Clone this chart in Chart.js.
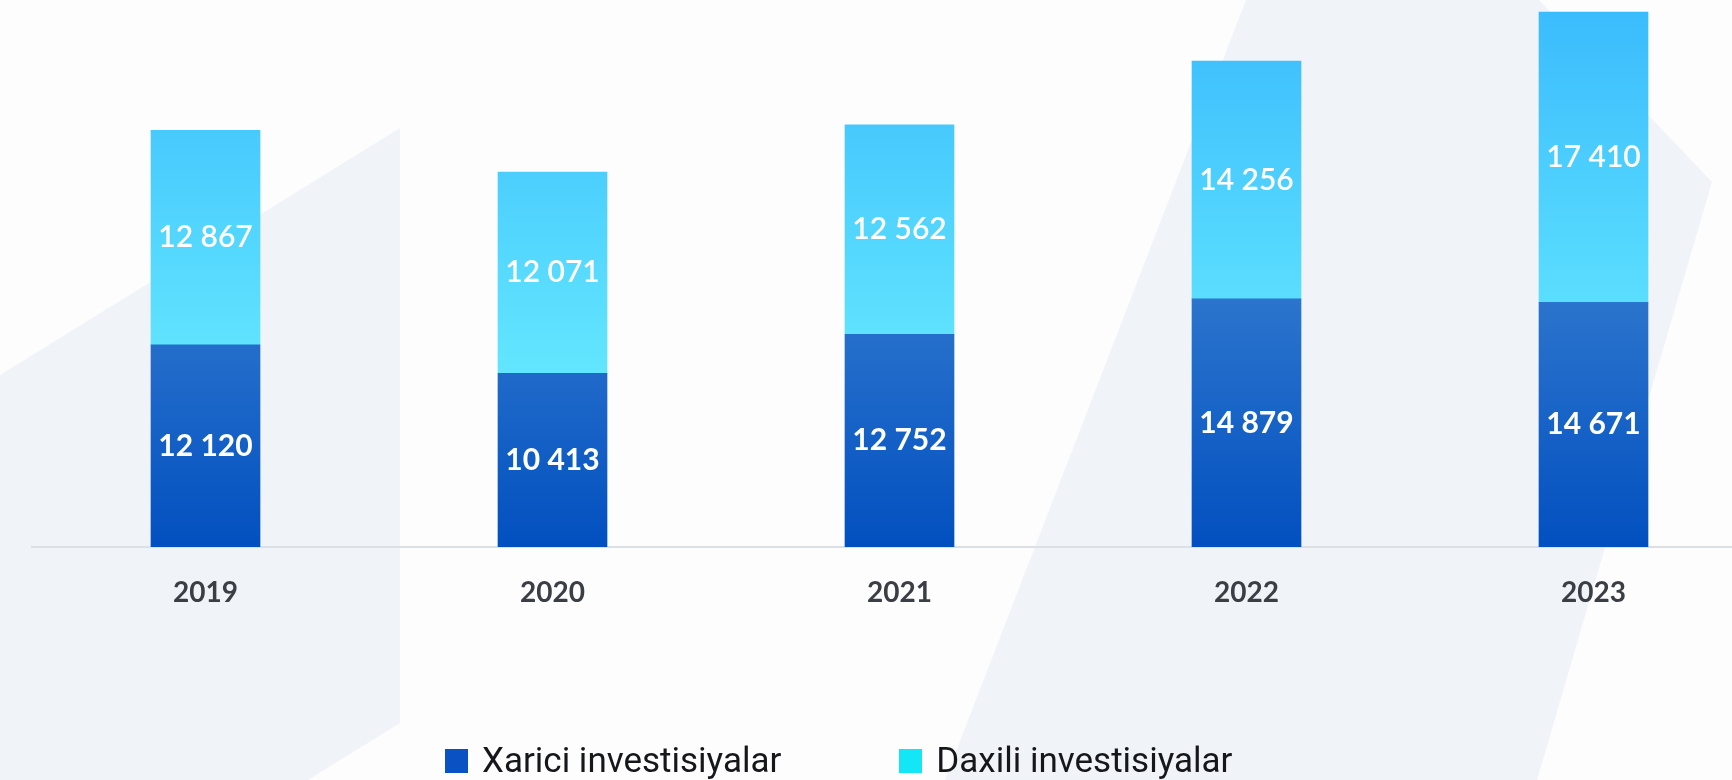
<!DOCTYPE html>
<html>
<head>
<meta charset="utf-8">
<script src="https://cdn.jsdelivr.net/npm/chart.js@4.4.1/dist/chart.umd.min.js"></script>
<style>
    html, body { margin: 0; padding: 0; width: 1732px; height: 780px; overflow: hidden; background: #fdfdfe; }
    #bg { position: absolute; left: 0; top: 0; }
    #wrap { position: absolute; left: 0; top: 0; width: 1767px; height: 780px; }
    #legend { position: absolute; left: 445px; top: 743px; display: flex; font-family: Roboto, sans-serif; font-size: 35px; line-height: 35px; color: #16171a; }
    #legend .item { display: flex; align-items: center; margin-right: 118px; }
    #legend .box { width: 23px; height: 24px; margin-right: 14px; }
</style>
</head>
<body>
<svg id="bg" width="1732" height="780">
    <polygon points="0,375 400,128 400,723 308,780 0,780" fill="#f0f3f8"/>
    <polygon points="1246,0 1539,0 1712,182 1537,780 945,780" fill="#f0f3f8"/>
</svg>
<div id="wrap"><canvas id="chart"></canvas></div>
<div id="legend"></div>
<script>
const years = ["2019", "2020", "2021", "2022", "2023"];
const xarici = [12120, 10413, 12752, 14879, 14671];
const daxili = [12867, 12071, 12562, 14256, 17410];
const seriesNames = ["Xarici investisiyalar", "Daxili investisiyalar"];
const legendColors = ["#0a52c4", "#14e6f6"];

// 12120 -> "12 120"
function fmt(v) {
    return String(v).replace(/\B(?=(\d{3})+(?!\d))/g, " ");
}

// vertical gradient tied to y values, shared by all bars of a dataset
function gradient(from, to) {
    return function (ctx) {
        const chart = ctx.chart;
        if (!chart.chartArea) return from[1];
        const y = chart.scales.y;
        const g = chart.ctx.createLinearGradient(0, y.getPixelForValue(from[0]), 0, y.getPixelForValue(to[0]));
        g.addColorStop(0, from[1]);
        g.addColorStop(1, to[1]);
        return g;
    };
}

// value labels in the middle of each segment
const barLabels = {
    id: "barLabels",
    afterDatasetsDraw(chart) {
        const ctx = chart.ctx;
        ctx.save();
        ctx.textAlign = "center";
        ctx.textBaseline = "middle";
        ctx.fillStyle = "#ffffff";
        chart.data.datasets.forEach((ds, i) => {
            ctx.font = (i === 0 ? "bold" : "600") + " 30px Lato";
            chart.getDatasetMeta(i).data.forEach((bar, j) => {
                ctx.fillText(fmt(ds.data[j]), bar.x, (bar.y + bar.base) / 2);
            });
        });
        ctx.restore();
    }
};

const chart = new Chart(document.getElementById("chart"), {
    type: "bar",
    data: {
        labels: years,
        datasets: [
            {
                label: seriesNames[0],
                data: xarici,
                backgroundColor: gradient([0, "#0250c0"], [15000, "#2c75cd"]),
                borderWidth: 0,
                barThickness: 109
            },
            {
                label: seriesNames[1],
                data: daxili,
                backgroundColor: gradient([10000, "#63e7fe"], [32000, "#3bbcfd"]),
                borderWidth: 0,
                barThickness: 109
            }
        ]
    },
    options: {
        responsive: true,
        maintainAspectRatio: false,
        animation: false,
        layout: { padding: { left: 32, right: 0, top: 0, bottom: 0 } },
        plugins: {
            legend: { display: false },
            tooltip: { enabled: false }
        },
        scales: {
            x: {
                stacked: true,
                offset: true,
                grid: { display: false, drawTicks: false },
                border: { display: true, color: "#dcdfe4", width: 2 },
                ticks: {
                    padding: 29,
                    color: "#3b3e44",
                    font: { family: "Lato", size: 28, weight: "bold" }
                },
                afterFit(scale) { scale.height = 233; }
            },
            y: {
                stacked: true,
                display: false,
                min: 0,
                max: 32800
            }
        }
    },
    plugins: [barLabels]
});

// html legend from the datasets
const legend = document.getElementById("legend");
chart.data.datasets.forEach((ds, i) => {
    const item = document.createElement("div");
    item.className = "item";
    const box = document.createElement("span");
    box.className = "box";
    box.style.background = legendColors[i];
    const text = document.createElement("span");
    text.textContent = ds.label;
    item.appendChild(box);
    item.appendChild(text);
    legend.appendChild(item);
});
</script>
</body>
</html>
